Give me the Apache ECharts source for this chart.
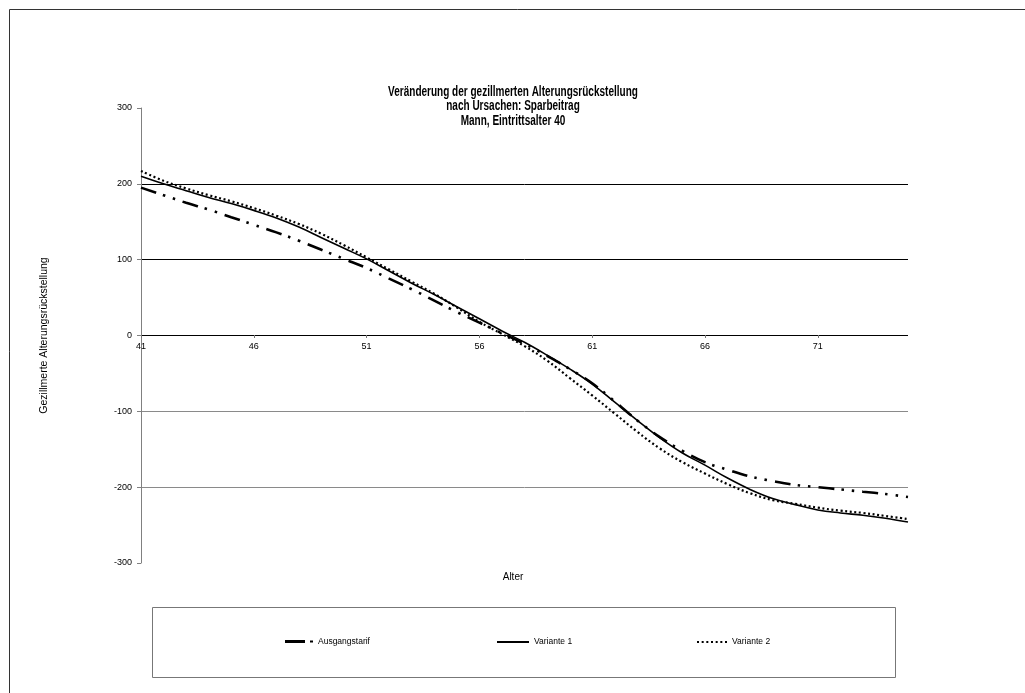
<!DOCTYPE html>
<html>
<head>
<meta charset="utf-8">
<script src="https://cdn.jsdelivr.net/npm/echarts@6/dist/echarts.min.js"></script>
<style>
html,body{margin:0;padding:0;background:#fff;}
#chart{width:1025px;height:693px;}
</style>
</head>
<body>
<div id="chart"></div>
<script>
var ages = ['41','42','43','44','45','46','47','48','49','50','51','52','53','54','55','56','57','58','59','60','61','62','63','64','65','66','67','68','69','70','71','72','73','74','75'];
var ausgangstarif = [195,185,175,166,156,146,136,125,113,101,89,75,61,46,31,17,3,-11,-27,-44,-63,-87,-112,-134,-152,-167,-177,-186,-192,-197,-200,-203,-206,-209,-213];
var variante1 = [210,200,191,182,174,165,155,143,129,115,101,85,69,54,38,22,6,-9,-26,-44,-64,-88,-112,-135,-155,-171,-188,-203,-215,-223,-230,-234,-237,-241,-246];
var variante2 = [217,204,194,185,177,168,158,147,134,119,103,87,71,55,37,18,2,-14,-33,-56,-79,-103,-127,-149,-167,-182,-196,-208,-217,-222,-227,-231,-234,-238,-242];
var yTicks = [-300,-200,-100,0,100,200,300];
var titleLines = ['Veränderung der gezillmerten Alterungsrückstellung','nach Ursachen: Sparbeitrag','Mann, Eintrittsalter 40'];
var seriesNames = ['Ausgangstarif','Variante 1','Variante 2'];
var yName = 'Gezillmerte Alterungsrückstellung';
var xName = 'Alter';

var FONT = '"Liberation Sans",Arial,sans-serif';
var chart = echarts.init(document.getElementById('chart'), null, {renderer:'canvas'});

var iconDashDot = 'path://M0,0H20V3H0Z M25,0.5H28V2.5H25Z';
var iconSolid = 'path://M0,0H32V2H0Z';
var iconDots = 'path://M0,0H2V2H0Z M4.67,0H6.67V2H4.67Z M9.33,0H11.33V2H9.33Z M14,0H16V2H14Z M18.67,0H20.67V2H18.67Z M23.33,0H25.33V2H23.33Z M28,0H30V2H28Z';

function legendFor(name, icon, left, w, h){
  return {data:[{name:name, icon:icon}], left:left, top:639-h/2-1, itemWidth:w, itemHeight:h, padding:0, itemGap:0,
    selectedMode:false, textStyle:{fontFamily:FONT, fontSize:8.5, color:'#000', lineHeight:10}};
}

var titleGraphics = titleLines.map(function(t, i){
  return {type:'text', x:513, y:92 + i*14.5, scaleX:0.715, silent:true,
    style:{text:t, textAlign:'center', textVerticalAlign:'middle', fontFamily:FONT, fontSize:14, fontWeight:'bold', fill:'#000'}};
});

var option = {
  backgroundColor:'#fff',
  animation:false,
  grid:{left:141, right:117, top:108, bottom:130, containLabel:false},
  legend:[legendFor(seriesNames[0], iconDashDot, 285, 28, 3), legendFor(seriesNames[1], iconSolid, 497, 32, 2), legendFor(seriesNames[2], iconDots, 697, 30, 2)],
  xAxis:{type:'category', data:ages, boundaryGap:false, position:'bottom', offset:-228,
    axisLine:{show:false, onZero:false},
    axisTick:{show:true, interval:4, length:3, lineStyle:{color:'#777'}},
    axisLabel:{interval:4, fontFamily:FONT, fontSize:9, color:'#000', margin:7},
    splitLine:{show:false}},
  yAxis:{type:'value', min:yTicks[0], max:yTicks[yTicks.length-1], interval:100,
    name:yName, nameLocation:'middle', nameGap:91, nameRotate:90,
    nameTextStyle:{fontFamily:FONT, fontSize:10.5, color:'#000'},
    axisLine:{show:true, lineStyle:{color:'#808080', width:1}},
    axisTick:{show:true, length:4, lineStyle:{color:'#808080'}},
    axisLabel:{fontFamily:FONT, fontSize:9, color:'#000', margin:9},
    splitLine:{show:true, lineStyle:{width:1, color:['rgba(0,0,0,0)','#8a8a8a','#8a8a8a','#000','#000','#000','rgba(0,0,0,0)']}}},
  graphic:[
    {type:'polyline', shape:{points:[[9.5,693],[9.5,9.5],[1025,9.5]]}, style:{stroke:'#333', lineWidth:1, fill:null}, silent:true},
    {type:'rect', shape:{x:152.5, y:607.5, width:743, height:70}, style:{stroke:'#777', lineWidth:1, fill:null}, silent:true, z:-1},
    {type:'text', x:513, y:577, silent:true, style:{text:xName, textAlign:'center', textVerticalAlign:'middle', fontFamily:FONT, fontSize:10, fill:'#000'}}
  ].concat(titleGraphics),
  series:[
    {name:seriesNames[0], type:'line', data:ausgangstarif, symbol:'none', showSymbol:false, smooth:0.4,
      lineStyle:{color:'#000', width:2.6, type:[16,7,2.5,8,2.5,8]}, itemStyle:{color:'#000'}, z:3},
    {name:seriesNames[1], type:'line', data:variante1, symbol:'none', showSymbol:false, smooth:0.4,
      lineStyle:{color:'#000', width:1.6, type:'solid'}, itemStyle:{color:'#000'}, z:4},
    {name:seriesNames[2], type:'line', data:variante2, symbol:'none', showSymbol:false, smooth:0.4,
      lineStyle:{color:'#000', width:2.2, type:[2,2.6]}, itemStyle:{color:'#000'}, z:5}
  ]
};
chart.setOption(option);
</script>
</body>
</html>
